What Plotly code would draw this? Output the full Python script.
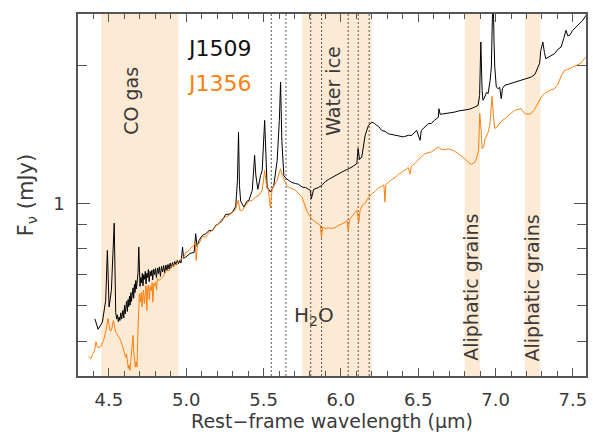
import math
import plotly.graph_objects as go

# ---------------- data ----------------
j1509_wl = [4.409, 4.430, 4.458, 4.479, 4.490, 4.501, 4.516, 4.534,
            4.544, 4.550, 4.555, 4.561, 4.566, 4.571, 4.577, 4.582, 4.586, 4.591, 4.596, 4.601, 4.605,
            4.610, 4.614, 4.619, 4.624, 4.628, 4.633, 4.637, 4.642, 4.646, 4.651, 4.656, 4.660, 4.665,
            4.669, 4.674, 4.678, 4.683, 4.688, 4.693, 4.697, 4.701, 4.706, 4.711, 4.716, 4.720, 4.725,
            4.730, 4.735, 4.740, 4.745, 4.750, 4.755, 4.760, 4.766, 4.772, 4.778, 4.783, 4.789, 4.795,
            4.801, 4.807, 4.814, 4.820, 4.826, 4.833, 4.840, 4.847, 4.854, 4.861, 4.868, 4.875, 4.882,
            4.889, 4.896, 4.903, 4.911, 4.918, 4.926, 4.934, 4.942, 4.950, 4.958, 4.966, 4.976, 4.983,
            4.997, 5.025, 5.051, 5.061, 5.070,
            5.083, 5.104, 5.126, 5.148, 5.169, 5.191, 5.212, 5.233, 5.255, 5.276, 5.298, 5.320, 5.331,
            5.338, 5.344, 5.352, 5.373, 5.392, 5.405, 5.427, 5.442, 5.450, 5.463, 5.481, 5.491, 5.507,
            5.515, 5.523, 5.545, 5.566, 5.588, 5.602, 5.610, 5.618, 5.631, 5.644, 5.663, 5.682, 5.706,
            5.727, 5.749, 5.771, 5.803, 5.809, 5.824, 5.856, 5.876, 5.900, 5.921, 5.964, 6.006, 6.028,
            6.071, 6.103, 6.111, 6.121, 6.135, 6.157, 6.168, 6.178, 6.200, 6.217, 6.232, 6.243, 6.264,
            6.286, 6.307, 6.329, 6.351, 6.372, 6.404, 6.436, 6.458, 6.490, 6.512, 6.520, 6.565, 6.586,
            6.604, 6.630, 6.634, 6.642, 6.673, 6.700, 6.737, 6.765, 6.802, 6.829, 6.866, 6.887, 6.897,
            6.905, 6.913, 6.919, 6.930, 6.942, 6.952, 6.965, 6.973, 6.979, 6.984, 6.990, 6.995, 7.005,
            7.016, 7.027, 7.037, 7.045, 7.059, 7.081, 7.124, 7.145, 7.166, 7.197, 7.231, 7.255, 7.274,
            7.285, 7.293, 7.306, 7.316, 7.325, 7.351, 7.382, 7.403, 7.424, 7.441, 7.456, 7.467, 7.480,
            7.499, 7.521, 7.538, 7.564, 7.585]
j1509_flux = [0.561, 0.532, 0.552, 0.615, 0.791, 0.595, 0.647, 0.907,
              0.579, 0.560, 0.572, 0.553, 0.566, 0.556, 0.578, 0.560, 0.571, 0.585, 0.563, 0.600, 0.575,
              0.592, 0.612, 0.582, 0.618, 0.596, 0.628, 0.601, 0.640, 0.612, 0.632, 0.655, 0.622, 0.668,
              0.640, 0.680, 0.652, 0.690, 0.705, 0.804, 0.700, 0.660, 0.690, 0.672, 0.705, 0.662, 0.700,
              0.684, 0.712, 0.668, 0.705, 0.690, 0.718, 0.676, 0.712, 0.695, 0.716, 0.682, 0.720, 0.700,
              0.722, 0.690, 0.724, 0.704, 0.728, 0.694, 0.730, 0.710, 0.733, 0.706, 0.735, 0.716, 0.737,
              0.720, 0.742, 0.724, 0.744, 0.730, 0.748, 0.735, 0.752, 0.740, 0.752, 0.742, 0.804, 0.760,
              0.765, 0.779, 0.783, 0.860, 0.807,
              0.831, 0.853, 0.860, 0.874, 0.874, 0.897, 0.905, 0.920, 0.948, 0.948, 0.957, 0.987, 1.124,
              1.433, 1.096, 1.012, 0.983, 1.012, 1.017, 1.069, 1.275, 1.153, 1.075, 1.153, 1.182, 1.520,
              1.243, 1.087, 1.060, 1.096, 1.243, 1.520, 1.843, 1.375, 1.153, 1.136, 1.124, 1.113, 1.107,
              1.102, 1.087, 1.085, 1.069, 1.025, 1.075, 1.085, 1.096, 1.118, 1.130, 1.153, 1.172, 1.182,
              1.202, 1.223, 1.320, 1.249, 1.264, 1.410, 1.445, 1.482, 1.507, 1.497, 1.482, 1.475, 1.445,
              1.438, 1.421, 1.417, 1.410, 1.410, 1.399, 1.410, 1.410, 1.445, 1.375, 1.445, 1.495, 1.497,
              1.520, 1.543, 1.612, 1.567, 1.572, 1.582, 1.585, 1.595, 1.599, 1.607, 1.625, 1.639, 1.723,
              2.254, 1.767, 1.681, 1.709, 1.750, 1.739, 1.858, 1.988, 2.390, 3.000, 2.273, 1.988, 1.797,
              1.783, 1.794, 1.695, 1.785, 1.813, 1.822, 1.843, 1.854, 1.858, 1.873, 1.890, 1.916, 1.974,
              2.025, 2.161, 2.254, 2.140, 2.073, 2.097, 2.126, 2.172, 2.197, 2.296, 2.390, 2.325, 2.331,
              2.390, 2.430, 2.470, 2.513, 2.577]

j1356_wl = [4.368, 4.383, 4.394, 4.407, 4.416, 4.426, 4.447, 4.465, 4.481, 4.494, 4.506, 4.516, 4.529,
            4.544, 4.566, 4.576, 4.587, 4.598, 4.608, 4.614, 4.619, 4.625, 4.630, 4.636, 4.641, 4.646,
            4.652, 4.656, 4.660, 4.664, 4.670, 4.676, 4.682, 4.687, 4.692, 4.697, 4.703, 4.709, 4.714,
            4.718, 4.723, 4.729, 4.735, 4.740, 4.745, 4.750, 4.756, 4.761, 4.767, 4.774, 4.779, 4.784,
            4.790, 4.796, 4.802, 4.808, 4.813, 4.822, 4.834, 4.851, 4.869, 4.890, 4.911, 4.935, 4.954,
            4.974, 4.987, 4.997, 5.012, 5.028, 5.049, 5.059, 5.064, 5.073, 5.083, 5.104, 5.126, 5.148,
            5.167, 5.191, 5.212, 5.233, 5.255, 5.276, 5.298, 5.320, 5.336, 5.347, 5.362, 5.384, 5.405,
            5.427, 5.448, 5.470, 5.491, 5.507, 5.521, 5.531, 5.544, 5.555, 5.577, 5.588, 5.602, 5.610,
            5.621, 5.631, 5.650, 5.663, 5.684, 5.708, 5.727, 5.749, 5.760, 5.781, 5.798, 5.813, 5.835,
            5.856, 5.867, 5.874, 5.882, 5.900, 5.921, 5.942, 5.964, 5.985, 6.006, 6.028, 6.039, 6.048,
            6.056, 6.082, 6.103, 6.116, 6.124, 6.135, 6.157, 6.178, 6.200, 6.222, 6.243, 6.264, 6.278,
            6.285, 6.291, 6.307, 6.329, 6.351, 6.372, 6.393, 6.415, 6.436, 6.446, 6.456, 6.479, 6.501,
            6.522, 6.544, 6.565, 6.586, 6.608, 6.630, 6.651, 6.673, 6.694, 6.726, 6.747, 6.758, 6.780,
            6.802, 6.823, 6.844, 6.866, 6.881, 6.890, 6.898, 6.907, 6.913, 6.923, 6.932, 6.941, 6.952,
            6.963, 6.970, 6.977, 6.986, 6.995, 7.006, 7.016, 7.037, 7.059, 7.081, 7.102, 7.124, 7.145,
            7.166, 7.188, 7.209, 7.231, 7.253, 7.274, 7.295, 7.317, 7.327, 7.351, 7.382, 7.403, 7.424,
            7.446, 7.467, 7.488, 7.510, 7.532, 7.553, 7.564, 7.575, 7.585]
j1356_flux = [0.464, 0.459, 0.469, 0.478, 0.500, 0.486, 0.487, 0.503, 0.529, 0.562, 0.529, 0.529, 0.556,
              0.524, 0.511, 0.503, 0.490, 0.478, 0.462, 0.470, 0.450, 0.437, 0.445, 0.433, 0.452, 0.470,
              0.490, 0.516, 0.480, 0.463, 0.440, 0.452, 0.440, 0.520, 0.600, 0.636, 0.610, 0.640, 0.596,
              0.628, 0.648, 0.606, 0.655, 0.663, 0.585, 0.650, 0.665, 0.618, 0.660, 0.645, 0.672, 0.610,
              0.670, 0.662, 0.675, 0.648, 0.687, 0.680, 0.684, 0.694, 0.715, 0.715, 0.733, 0.737, 0.752,
              0.760, 0.767, 0.783, 0.787, 0.799, 0.811, 0.824, 0.752, 0.815, 0.819, 0.848, 0.846, 0.866,
              0.874, 0.892, 0.910, 0.927, 0.935, 0.943, 0.957, 0.972, 1.017, 0.967, 0.967, 0.992, 1.014,
              1.017, 1.034, 1.043, 1.069, 1.182, 1.080, 1.075, 0.977, 1.075, 1.113, 1.124, 1.170, 1.192,
              1.153, 1.130, 1.096, 1.085, 1.080, 1.069, 1.053, 1.032, 1.007, 0.962, 0.941, 0.924, 0.913,
              0.904, 0.897, 0.844, 0.888, 0.883, 0.885, 0.883, 0.888, 0.897, 0.905, 0.910, 0.920, 0.874,
              0.924, 0.948, 0.967, 0.912, 0.967, 0.987, 1.002, 1.032, 1.051, 1.064, 1.083, 1.091, 1.099,
              1.008, 1.102, 1.113, 1.130, 1.141, 1.159, 1.170, 1.188, 1.200, 1.159, 1.206, 1.225, 1.249,
              1.268, 1.286, 1.294, 1.298, 1.314, 1.329, 1.314, 1.311, 1.317, 1.307, 1.294, 1.286, 1.272,
              1.253, 1.233, 1.218, 1.231, 1.268, 1.307, 1.574, 1.445, 1.320, 1.327, 1.388, 1.403, 1.431,
              1.482, 1.599, 1.715, 1.559, 1.460, 1.467, 1.482, 1.512, 1.533, 1.559, 1.578, 1.599, 1.607,
              1.612, 1.574, 1.567, 1.572, 1.607, 1.656, 1.709, 1.741, 1.750, 1.767, 1.783, 1.822, 1.897,
              1.954, 1.964, 1.979, 1.994, 2.009, 2.025, 2.056, 2.077, 2.087]

band_ranges = [(4.45, 4.95), (5.75, 6.20), (6.80, 6.90), (7.19, 7.29)]
dotted_wl = [5.550, 5.645, 5.805, 5.875, 6.047, 6.112, 6.183]

band_labels = ["CO gas", "Water ice", "Aliphatic grains", "Aliphatic grains"]
band_label_x = [4.645, 5.953, 6.836, 7.235]
band_label_y = [1.68, 1.76, 0.656, 0.656]

x_ticks = [4.5, 5.0, 5.5, 6.0, 6.5, 7.0, 7.5]
x_tick_text = ["4.5", "5.0", "5.5", "6.0", "6.5", "7.0", "7.5"]
x_minor = [4.4, 4.6, 4.7, 4.8, 4.9, 5.1, 5.2, 5.3, 5.4, 5.6, 5.7, 5.8, 5.9, 6.1, 6.2, 6.3, 6.4,
           6.6, 6.7, 6.8, 6.9, 7.1, 7.2, 7.3, 7.4]
y_ticks = [1]
y_tick_text = ["1"]
y_minor = [0.5, 0.6, 0.7, 0.8, 0.9, 2]

BLACK = "#000000"
ORANGE = "#ff7f0e"
BAND = "#fdead5"
AXIS = "#555555"
TEXT = "#3a3a3a"
FONT = "DejaVu Sans"

fig = go.Figure()
fig.add_trace(go.Scatter(x=j1509_wl, y=j1509_flux, mode="lines", name="J1509",
                         line=dict(color=BLACK, width=1), showlegend=False))
fig.add_trace(go.Scatter(x=j1356_wl, y=j1356_flux, mode="lines", name="J1356",
                         line=dict(color=ORANGE, width=1), showlegend=False))

for x0, x1 in band_ranges:
    fig.add_shape(type="rect", xref="x", yref="paper", x0=x0, x1=x1, y0=0, y1=1,
                  fillcolor=BAND, line=dict(width=0), layer="below")
for xv in dotted_wl:
    fig.add_shape(type="line", xref="x", yref="paper", x0=xv, x1=xv, y0=0, y1=1,
                  line=dict(color=AXIS, width=1, dash="2px,2px"), layer="below")

for txt, xv, yv in zip(band_labels, band_label_x, band_label_y):
    fig.add_annotation(x=xv, y=math.log10(yv), text=txt, showarrow=False, textangle=-90,
                       font=dict(family=FONT, size=19, color=TEXT))
fig.add_annotation(x=5.824, y=math.log10(0.570), text="H<sub>2</sub>O", showarrow=False,
                   font=dict(family=FONT, size=20, color=TEXT))
fig.add_annotation(x=4.995, y=math.log10(2.183), text="J1509", showarrow=False, xanchor="left",
                   font=dict(family=FONT, size=22, color="#111111"))
fig.add_annotation(x=4.995, y=math.log10(1.831), text="J1356", showarrow=False, xanchor="left",
                   font=dict(family=FONT, size=22, color=ORANGE))

fig.update_layout(
    width=593, height=441,
    margin=dict(l=78, r=5, t=14, b=65),
    paper_bgcolor="white", plot_bgcolor="white",
    font=dict(family=FONT, color=TEXT),
    xaxis=dict(range=[4.3, 7.585], showgrid=False, zeroline=False,
               showline=True, linecolor=AXIS, linewidth=1.5, mirror="ticks",
               ticks="inside", ticklen=8, tickcolor=AXIS, tickwidth=1,
               tickmode="array", tickvals=x_ticks, ticktext=x_tick_text,
               tickfont=dict(size=18, color=TEXT), ticklabelstandoff=7,
               minor=dict(tickmode="array", tickvals=x_minor, ticks="inside", ticklen=5,
                          tickcolor=AXIS, tickwidth=1),
               title=dict(text="Rest\u2212frame wavelength (\u03bcm)", font=dict(size=19, color=TEXT),
                          standoff=4)),
    yaxis=dict(type="log", range=[-0.376, 0.414], showgrid=False, zeroline=False,
               showline=True, linecolor=AXIS, linewidth=1.5, mirror="ticks",
               ticks="inside", ticklen=12, tickcolor=AXIS, tickwidth=1,
               tickmode="array", tickvals=y_ticks, ticktext=y_tick_text,
               tickfont=dict(size=18, color=TEXT), ticklabelstandoff=8,
               minor=dict(tickmode="array", tickvals=y_minor, ticks="inside", ticklen=9,
                          tickcolor=AXIS, tickwidth=1),
               title=dict(text="F<sub>\u03bd</sub> (mJy)", font=dict(size=21, color=TEXT),
                          standoff=14)),
)

fig.write_html("out.html")
